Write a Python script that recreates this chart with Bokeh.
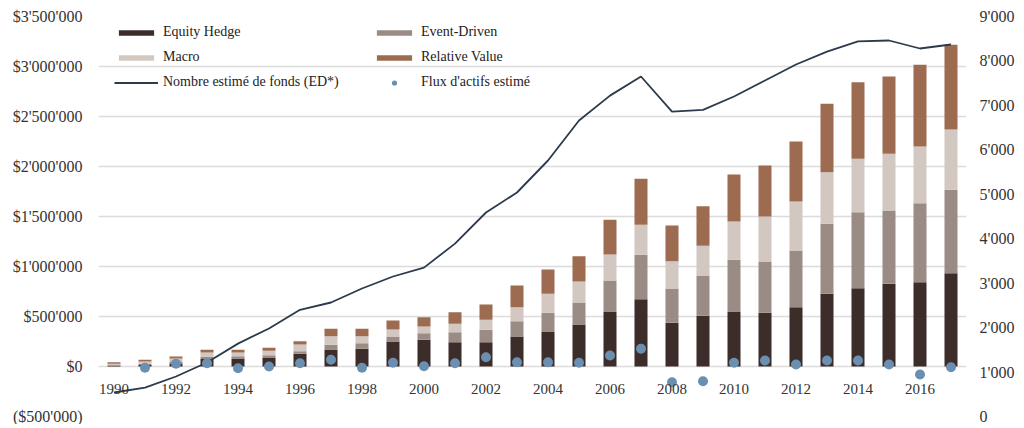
from bokeh.plotting import figure
from bokeh.models import (Range1d, LinearAxis, FixedTicker, CustomJSTickFormatter,
                          ColumnDataSource, Legend, LegendItem)
from bokeh.core.properties import value
from bokeh.embed import file_html
from bokeh.resources import INLINE

# ---------------- data ----------------
years = list(range(1990, 2018))
equity_hedge = [8000, 15000, 30000, 75000, 80000, 85000, 127000, 170000, 177000, 250000,
                267000, 243000, 243000, 300000, 350000, 420000, 550000, 673000, 437000, 507000,
                550000, 537000, 593000, 727000, 783000, 827000, 843000, 933000]
event_driven = [7000, 12000, 15000, 20000, 22000, 27000, 26000, 47000, 56000, 50000,
                66000, 100000, 124000, 153000, 187000, 220000, 310000, 444000, 343000, 403000,
                517000, 513000, 567000, 700000, 760000, 733000, 790000, 834000]
macro = [13000, 22000, 35000, 45000, 38000, 45000, 67000, 86000, 70000, 70000,
         67000, 84000, 100000, 140000, 190000, 210000, 260000, 300000, 273000, 297000,
         383000, 450000, 490000, 516000, 534000, 567000, 567000, 603000]
relative_value = [15000, 18000, 20000, 27000, 27000, 30000, 33000, 74000, 74000, 90000,
                  93000, 116000, 153000, 217000, 243000, 253000, 347000, 460000, 357000, 396000,
                  470000, 510000, 600000, 684000, 766000, 773000, 817000, 847000]
fund_count = [540, 650, 900, 1215, 1640, 1980, 2400, 2565, 2880, 3150,
              3350, 3890, 4590, 5040, 5760, 6660, 7220, 7650, 6860, 6900,
              7200, 7560, 7920, 8210, 8440, 8460, 8280, 8370]
flux_years = list(range(1991, 2018))
flux = [-13000, 27000, 33000, -17000, 0, 33000, 67000, -13000, 37000, 3000,
        33000, 93000, 43000, 43000, 37000, 110000, 177000, -157000, -147000, 37000,
        60000, 20000, 60000, 60000, 20000, -80000, -7000]
year_ticks = list(range(1990, 2018, 2))
year_labels = [str(y) for y in year_ticks]
left_ticks = list(range(-500000, 3500001, 500000))
right_ticks = list(range(0, 9001, 1000))

series = ["equity_hedge", "event_driven", "macro", "relative_value"]
series_names = ["Equity Hedge", "Event-Driven", "Macro", "Relative Value"]
colors = ["#3d2d2a", "#9a8c84", "#d2c7c1", "#9c6b50"]

FONT = "Liberation Serif"

src = ColumnDataSource(dict(years=years, equity_hedge=equity_hedge, event_driven=event_driven,
                            macro=macro, relative_value=relative_value, fund_count=fund_count))

p = figure(frame_width=868, frame_height=400, output_backend="svg", toolbar_location=None,
           x_range=Range1d(1989.5, 2017.5), y_range=Range1d(-500000, 3500000),
           x_axis_location=None, min_border_left=98, min_border_right=50,
           min_border_top=16, min_border_bottom=8)
p.outline_line_color = None
p.background_fill_color = "white"
p.border_fill_color = "white"
p.xgrid.grid_line_color = None
p.ygrid.grid_line_color = "#dcdcdc"
p.ygrid.grid_line_width = 1.5
p.ygrid.ticker = FixedTicker(ticks=left_ticks)

yax = p.yaxis[0]
yax.ticker = FixedTicker(ticks=left_ticks)
yax.formatter = CustomJSTickFormatter(code=r"""
const a = Math.abs(tick);
const s = a.toFixed(0).replace(/\B(?=(\d{3})+(?!\d))/g, "'");
return tick < 0 ? "($" + s + ")" : "$" + s;
""")

p.extra_y_ranges = {"funds": Range1d(0, 9000)}
rax = LinearAxis(y_range_name="funds", ticker=FixedTicker(ticks=right_ticks))
rax.formatter = CustomJSTickFormatter(code=r"""
return tick.toFixed(0).replace(/\B(?=(\d{3})+(?!\d))/g, "'");
""")
p.add_layout(rax, "right")

for ax, standoff in ((yax, 16), (rax, 13)):
    ax.axis_line_color = None
    ax.major_tick_line_color = None
    ax.minor_tick_line_color = None
    ax.major_tick_out = 0
    ax.major_tick_in = 0
    ax.major_label_standoff = standoff
    ax.major_label_text_font = FONT
    ax.major_label_text_font_size = "16px"
    ax.major_label_text_color = "#333333"

bars = p.vbar_stack(series, x="years", width=0.42, color=colors, source=src, line_color=None)

line = p.line(x="years", y="fund_count", source=src, y_range_name="funds",
              line_color="#2b3a4c", line_width=1.8)

dots = p.scatter(x=flux_years, y=flux, size=10, color="#6a8fb0", line_color=None)

# year labels along the $0 line
p.text(x=year_ticks, y=[0] * len(year_ticks), text=year_labels, text_font=value(FONT),
       text_font_size="15px", text_color="#333333", text_align="center",
       text_baseline="middle", y_offset=22)

def make_legend(items, loc, gh):
    lg = Legend(items=items, location=loc, orientation="vertical",
                glyph_width=44, glyph_height=gh, label_height=20, spacing=5,
                padding=0, margin=0, label_standoff=5,
                label_text_font=FONT, label_text_font_size="14px",
                label_text_color="#222222", background_fill_alpha=0,
                border_line_color=None)
    p.add_layout(lg, "center")
    return lg

make_legend([LegendItem(label=series_names[0], renderers=[bars[0]]),
             LegendItem(label=series_names[2], renderers=[bars[2]]),
             LegendItem(label="Nombre estimé de fonds (ED*)", renderers=[line])],
            (16, 324), 7)
make_legend([LegendItem(label=series_names[1], renderers=[bars[1]]),
             LegendItem(label=series_names[3], renderers=[bars[3]])],
            (274, 349), 7)
make_legend([LegendItem(label="Flux d'actifs estimé", renderers=[dots])],
            (274, 324), 13)

open("out.html", "w").write(file_html(p, INLINE))
